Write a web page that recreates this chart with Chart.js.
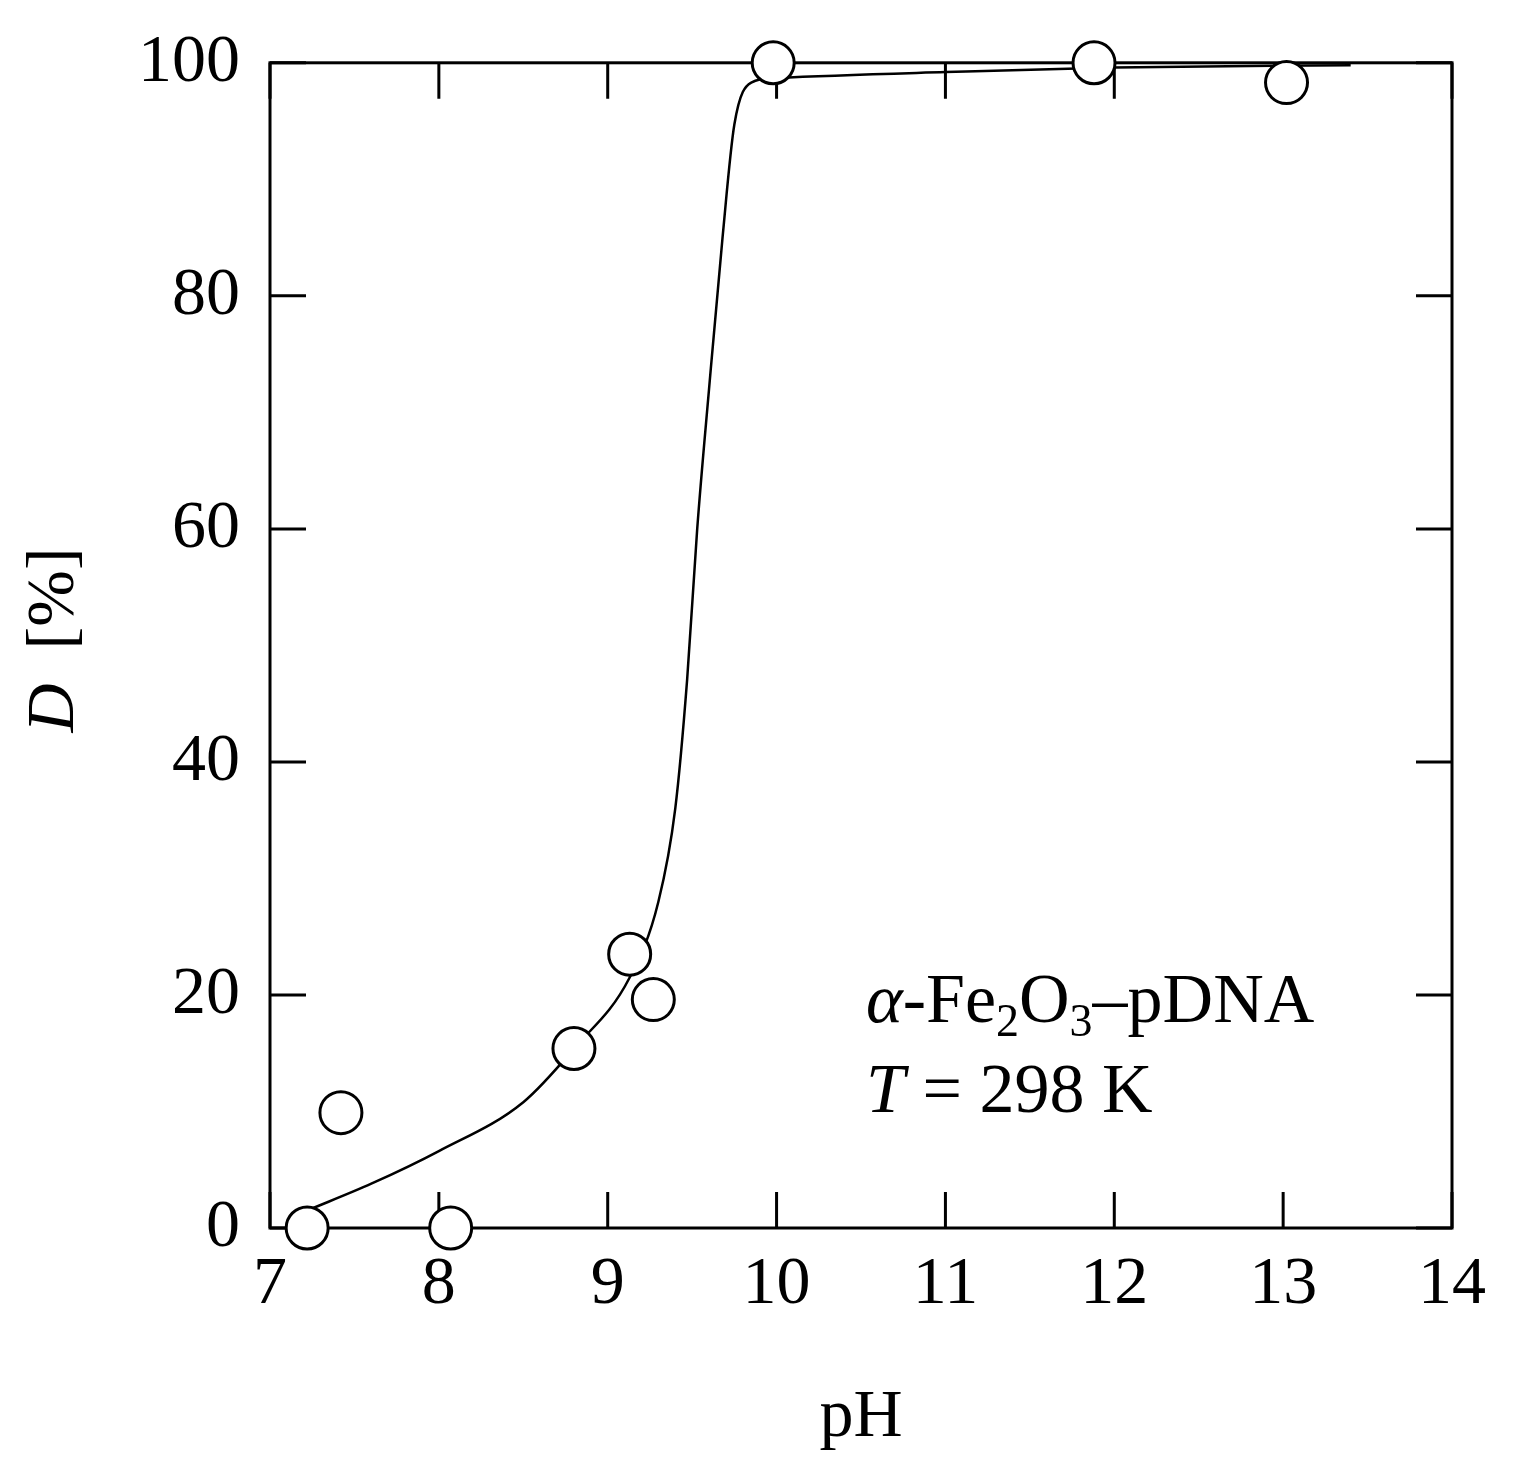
<!DOCTYPE html>
<html>
<head>
<meta charset="utf-8">
<script src="https://cdn.jsdelivr.net/npm/chart.js@4.4.0/dist/chart.umd.min.js"></script>
<style>
  html, body { margin: 0; padding: 0; background: #fff; }
  #wrap { width: 1513px; height: 1463px; }
</style>
</head>
<body>
<div id="wrap"><canvas id="c"></canvas></div>
<script>
// measured points
const pointPH = [7.22, 7.42, 8.07, 8.8, 9.13, 9.27, 9.98, 11.88, 13.02];
const pointD = [0, 9.9, 0, 15.4, 23.5, 19.6, 100, 100, 98.3];
// fitted curve
const curvePH = [7.22, 7.6, 8.0, 8.5, 8.8, 9.13, 9.3, 9.4, 9.47, 9.53, 9.6, 9.68, 9.75, 9.85, 10.0, 11.0, 12.0, 13.4];
const curveD = [1.5, 3.8, 6.6, 10.8, 15.4, 21.5, 28, 36, 47, 60, 72, 85, 94.7, 98.3, 98.7, 99.2, 99.6, 99.8];
const xTicks = [7, 8, 9, 10, 11, 12, 13, 14];
const yTicks = [0, 20, 40, 60, 80, 100];

const serif = "'Liberation Serif', 'Times New Roman', serif";
const fs = 68;

const decor = {
  id: "decor",
  beforeDatasetsDraw(chart) {
    const { ctx, chartArea: a, scales: { x, y } } = chart;
    ctx.save();
    ctx.strokeStyle = "#000";
    ctx.lineWidth = 3;
    ctx.strokeRect(a.left, a.top, a.right - a.left, a.bottom - a.top);
    const t = 36;
    ctx.beginPath();
    xTicks.forEach(v => {
      const px = x.getPixelForValue(v);
      ctx.moveTo(px, a.bottom); ctx.lineTo(px, a.bottom - t);
      ctx.moveTo(px, a.top); ctx.lineTo(px, a.top + t);
    });
    yTicks.forEach(v => {
      const py = y.getPixelForValue(v);
      ctx.moveTo(a.left, py); ctx.lineTo(a.left + t, py);
      ctx.moveTo(a.right, py); ctx.lineTo(a.right - t, py);
    });
    ctx.stroke();
    ctx.restore();
  },
  afterDraw(chart) {
    const { ctx } = chart;
    ctx.save();
    ctx.fillStyle = "#000";
    // y title
    ctx.save();
    ctx.translate(55, 640);
    ctx.rotate(-Math.PI / 2);
    ctx.textBaseline = "middle";
    ctx.font = "italic " + fs + "px " + serif;
    const wD = ctx.measureText("D").width;
    ctx.font = fs + "px " + serif;
    const wR = ctx.measureText("  [%]").width;
    const start = -(wD + wR) / 2;
    ctx.textAlign = "left";
    ctx.font = "italic " + fs + "px " + serif;
    ctx.fillText("D", start, 0);
    ctx.font = fs + "px " + serif;
    ctx.fillText("  [%]", start + wD, 0);
    ctx.restore();

    // annotation
    ctx.textBaseline = "alphabetic";
    ctx.textAlign = "left";
    let xx = 866, yy = 1022;
    const part = (s, f, dy) => {
      ctx.font = f; ctx.fillText(s, xx, yy + (dy || 0)); xx += ctx.measureText(s).width;
    };
    part("α", "italic 70px " + serif);
    part("-Fe", "70px " + serif);
    part("2", "46px " + serif, 14);
    part("O", "70px " + serif);
    part("3", "46px " + serif, 14);
    part("–pDNA", "70px " + serif);
    xx = 866; yy = 1112;
    part("T", "italic 70px " + serif);
    part(" = 298 K", "70px " + serif);
    ctx.restore();
  }
};

new Chart(document.getElementById("c"), {
  type: "scatter",
  data: {
    datasets: [
      {
        data: pointPH.map((v, i) => ({ x: v, y: pointD[i] })),
        pointRadius: 21,
        pointBackgroundColor: "#fff",
        pointBorderColor: "#000",
        pointBorderWidth: 3,
        showLine: false,
        clip: false,
        order: 0
      },
      {
        data: curvePH.map((v, i) => ({ x: v, y: curveD[i] })),
        showLine: true,
        pointRadius: 0,
        borderColor: "#000",
        borderWidth: 2.5,
        cubicInterpolationMode: "monotone",
        order: 1
      }
    ]
  },
  options: {
    responsive: true,
    maintainAspectRatio: false,
    animation: false,
    layout: { padding: { left: 0, top: 48, right: 61, bottom: 0 } },
    plugins: { legend: { display: false }, tooltip: { enabled: false } },
    scales: {
      x: {
        type: "linear", min: 7, max: 14,
        afterFit: s => { s.height = 235; },
        afterBuildTicks: s => { s.ticks = xTicks.map(v => ({ value: v })); },
        grid: { display: false },
        border: { display: false },
        ticks: { color: "#000", font: { family: serif, size: fs }, padding: 8 },
        title: { display: true, text: "pH", color: "#000", font: { family: serif, size: fs }, padding: { top: 18 } }
      },
      y: {
        min: 0, max: 100,
        afterFit: s => { s.width = 270; },
        afterBuildTicks: s => { s.ticks = yTicks.map(v => ({ value: v })); },
        grid: { display: false },
        border: { display: false },
        ticks: { color: "#000", font: { family: serif, size: fs }, padding: 22 }
      }
    }
  },
  plugins: [decor]
});
</script>
</body>
</html>
